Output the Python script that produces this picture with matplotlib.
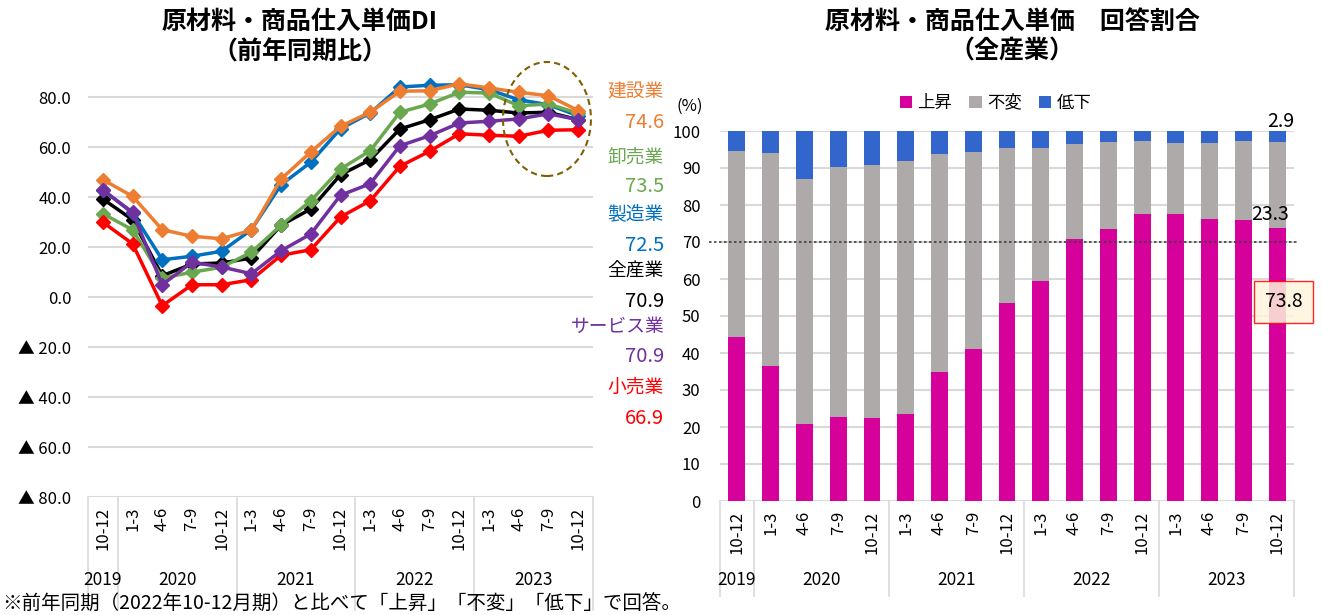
import numpy as np
import matplotlib.pyplot as plt
from matplotlib.patches import Ellipse

plt.rcParams['font.family'] = ['Noto Sans CJK JP', 'DejaVu Sans']

# 四半期ラベル
quarters = ['10-12', '1-3', '4-6', '7-9', '10-12', '1-3', '4-6', '7-9', '10-12',
            '1-3', '4-6', '7-9', '10-12', '1-3', '4-6', '7-9', '10-12']
years = ['2019', '2020', '2021', '2022', '2023']
year_pos = [0, 2.5, 6.5, 10.5, 14.5]
year_sep = [-0.5, 0.5, 4.5, 8.5, 12.5, 16.5]

# DI（前年同期比）
kensetsu = [46.9, 40.3, 26.9, 24.3, 23.3, 26.7, 47.2, 58.0, 68.3, 73.9, 82.3, 82.5, 85.3, 83.6, 81.9, 80.5, 74.6]
seizo = [42.9, 33.6, 14.9, 16.3, 18.3, 26.9, 44.9, 53.9, 67.3, 73.6, 84.0, 84.7, 84.9, 82.9, 78.9, 76.9, 72.5]
oroshi = [33.3, 26.9, 7.6, 9.9, 11.9, 17.9, 28.7, 38.5, 51.2, 58.5, 73.9, 77.2, 81.9, 81.6, 76.5, 77.2, 73.5]
zensangyo = [39.2, 30.9, 8.5, 13.2, 13.6, 15.6, 28.7, 35.2, 48.9, 54.9, 67.2, 70.9, 75.2, 74.7, 73.6, 73.9, 70.9]
service = [42.7, 33.9, 4.9, 13.9, 12.0, 9.3, 18.5, 25.2, 40.7, 45.3, 60.5, 64.5, 69.6, 70.3, 71.2, 73.3, 70.9]
kouri = [29.9, 21.3, -3.5, 4.9, 4.9, 6.9, 16.7, 18.9, 32.0, 38.5, 52.3, 58.3, 65.3, 64.7, 64.3, 66.7, 66.9]

# 回答割合（全産業）
joshou = [44.3, 36.5, 20.8, 22.7, 22.3, 23.5, 35.0, 41.0, 53.5, 59.5, 70.7, 73.4, 77.5, 77.5, 76.1, 75.9, 73.8]
fuhen = [50.4, 57.5, 66.3, 67.5, 68.6, 68.3, 58.7, 53.3, 41.9, 35.9, 25.9, 23.5, 19.7, 19.3, 20.7, 21.3, 23.3]
teika = [5.3, 6.0, 12.9, 9.8, 9.1, 8.2, 6.3, 5.7, 4.6, 4.6, 3.4, 3.1, 2.8, 3.2, 3.2, 2.8, 2.9]

W, H = 1322, 615
fig = plt.figure(figsize=(W / 100, H / 100), dpi=100)

grid_c = '#D9D9D9'
x = np.arange(len(quarters))


def setup_category_axis(ax, sep_depth, year_y):
    ax.set_xlim(-0.5, 16.5)
    ax.set_xticks(x)
    ax.set_xticklabels(quarters, rotation=90, fontsize=12)
    ax.tick_params(axis='x', length=0, pad=7)
    trans = ax.get_xaxis_transform()
    for s in year_sep:
        ax.plot([s, s], [0, -sep_depth], color=grid_c, lw=1.2, transform=trans, clip_on=False)
    for yr, p in zip(years, year_pos):
        ax.text(p, year_y, yr, transform=trans, ha='center', va='center', fontsize=12.5)
    for sp in ax.spines.values():
        sp.set_visible(False)


# ---- 左：DI ----
ax1 = fig.add_axes([88 / W, 1 - 497 / H, 505 / W, 425 / H])
series = [
    ('全産業', zensangyo, 'black'),
    ('製造業', seizo, '#0070C0'),
    ('卸売業', oroshi, '#6AA84F'),
    ('建設業', kensetsu, '#ED7D31'),
    ('小売業', kouri, '#FF0000'),
    ('サービス業', service, '#7030A0'),
]
for name, vals, c in series:
    ax1.plot(x, vals, color=c, lw=2.5, marker='D', ms=7, zorder=3)

ax1.set_ylim(-80, 90)
ax1.set_yticks(np.arange(-80, 81, 20))
ax1.set_yticklabels([f'{v:.1f}' if v >= 0 else f'▲ {-v:.1f}' for v in np.arange(-80, 81, 20)],
                    fontsize=12)
ax1.tick_params(axis='y', length=0, pad=12)
ax1.grid(axis='y', color=grid_c, lw=1.5)
ax1.set_axisbelow(True)
setup_category_axis(ax1, 113 / 425, -83 / 425)

ell = Ellipse((14.95, 71.2), 2.96, 45.6, fill=False, ls=(0, (3, 2)), lw=1.5,
              edgecolor='#7F6000', clip_on=False, zorder=4)
ax1.add_patch(ell)

side_labels = [
    ('建設業', '74.6', '#ED7D31', 92, 122),
    ('卸売業', '73.5', '#6AA84F', 157, 187),
    ('製造業', '72.5', '#0070C0', 214, 245),
    ('全産業', '70.9', 'black', 271, 302),
    ('サービス業', '70.9', '#7030A0', 326, 357),
    ('小売業', '66.9', '#FF0000', 387, 418),
]
for name, val, c, yn, yv in side_labels:
    fig.text(664 / W, 1 - yn / H, name, color=c, ha='right', va='center', fontsize=13.5)
    fig.text(664 / W, 1 - yv / H, val, color=c, ha='right', va='center', fontsize=14.5)

fig.text(300 / W, 1 - 37 / H, '原材料・商品仕入単価DI\n（前年同期比）', ha='center', va='center',
         fontsize=18, fontweight='bold', linespacing=1.3)

# ---- 右：回答割合 ----
ax2 = fig.add_axes([720 / W, 1 - 501 / H, 574 / W, 370 / H])
bw = 0.5
ax2.bar(x, joshou, bw, color='#D6009A', label='上昇', zorder=2)
ax2.bar(x, fuhen, bw, bottom=joshou, color='#AEAAAA', label='不変', zorder=2)
ax2.bar(x, teika, bw, bottom=np.array(joshou) + np.array(fuhen), color='#3366CC',
        label='低下', zorder=2)
ax2.set_ylim(0, 100)
ax2.set_yticks(np.arange(0, 101, 10))
ax2.tick_params(axis='y', length=0, labelsize=12, pad=14)
ax2.grid(axis='y', color=grid_c, lw=1.5)
ax2.set_axisbelow(True)
setup_category_axis(ax2, 95 / 370, -79 / 370)
ax2.plot([-0.83, 16.63], [70, 70], color='#404040', ls=(0, (1.5, 1.5)), lw=1.2,
         clip_on=False, zorder=3)

last = len(x) - 1
ax2.text(last + 0.1, 102.5, f'{teika[last]:.1f}', ha='center', va='center', fontsize=14)
ax2.text(last - 0.2, 77.3, f'{fuhen[last]:.1f}', ha='center', va='center', fontsize=14)
ax2.text(last + 0.19, 53.8, f'{joshou[last]:.1f}', ha='center', va='center', fontsize=14,
         bbox=dict(boxstyle='square,pad=0.55', fc='#FFF5DC', ec='red', lw=1, alpha=0.85))

ax2.legend(loc='lower center', bbox_to_anchor=(0.48, 1.01), ncol=3, frameon=False,
           fontsize=12.5, handlelength=0.7, handleheight=0.7, handletextpad=0.3,
           columnspacing=1.0)
fig.text(690 / W, 1 - 106 / H, '(%)', ha='center', va='center', fontsize=12)

fig.text(1012 / W, 1 - 37 / H, '原材料・商品仕入単価　回答割合\n（全産業）', ha='center',
         va='center', fontsize=18, fontweight='bold', linespacing=1.3)

fig.text(2 / W, 1 - 604 / H, '※前年同期（2022年10-12月期）と比べて「上昇」「不変」「低下」で回答。',
         ha='left', va='center', fontsize=14)

fig.savefig('out.png', dpi=100)
